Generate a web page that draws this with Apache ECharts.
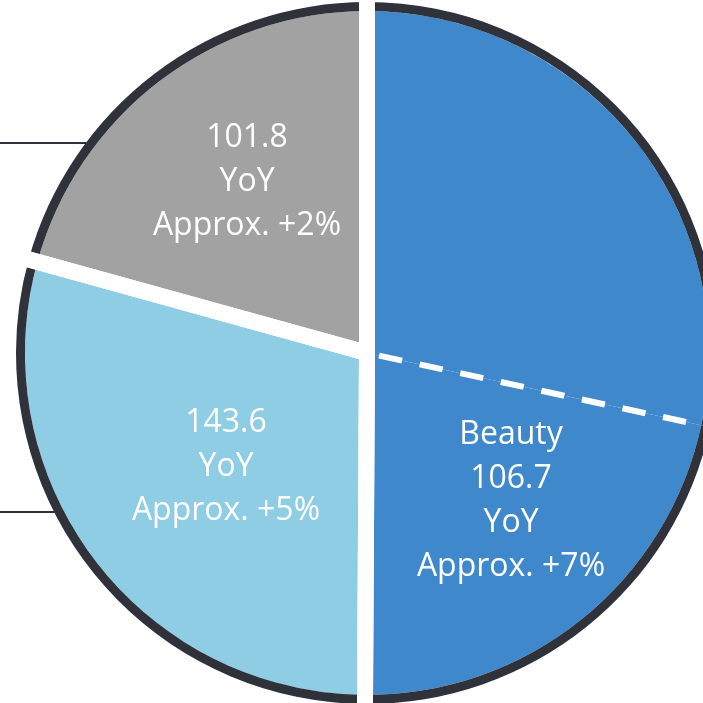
<!DOCTYPE html>
<html><head><meta charset="utf-8">
<script src="https://cdn.jsdelivr.net/npm/echarts@6/dist/echarts.min.js"></script>
<style>html,body{margin:0;padding:0;background:#fff;overflow:hidden}#c{width:703px;height:703px}</style>
</head><body><div id="c"></div>
<script>
// ---- data ----
const categories = ['Segment A', 'Beauty', 'Segment C', 'Segment D'];
const values = [139.6, 106.7, 143.6, 101.8];        // slice values (first one unlabeled, estimated from angle)
const labelTitles = ['', 'Beauty', '', ''];
const showLabel = [false, true, true, true];
const yoyValues = [null, 7, 5, 2];                 // YoY approx. %
// ---- style ----
const COLORS = ['#4088cc', '#4088cc', '#8ecde3', '#a2a2a2'];
const RING = '#30323b';
const CENTER = [367, 353];
const R_IN = 342, R_OUT = 351;
const LABEL_POS = {1: [511, 501], 2: [226, 467], 3: [247, 182]};

const chart = echarts.init(document.getElementById('c'), null, {renderer: 'canvas'});

function labelText(i) {
  if (!showLabel[i]) return '';
  const lines = [];
  if (labelTitles[i]) lines.push(labelTitles[i]);
  lines.push(values[i].toFixed(1));
  lines.push('YoY');
  lines.push('Approx. +' + yoyValues[i] + '%');
  return lines.join('\n');
}

const fillData = categories.map((n, i) => ({
  name: n, value: values[i],
  itemStyle: {color: COLORS[i]},
  label: {show: showLabel[i]}
}));
const dashData = categories.map((n, i) => ({
  name: n, value: values[i],
  itemStyle: n === 'Beauty'
    ? {color: 'rgba(0,0,0,0)', borderColor: '#fff', borderWidth: 6, borderType: [23.5, 18], borderDashOffset: 0}
    : {color: 'rgba(0,0,0,0)', borderWidth: 0}
}));
const ringData = categories.map((n, i) => ({name: n, value: values[i]}));
// white separation gaps: Segment A + Beauty form one block (split only by dashed line)
const gapData = [
  {name: 'blue', value: values[0] + values[1]},
  {name: categories[2], value: values[2]},
  {name: categories[3], value: values[3]}
];

const common = {type: 'pie', center: CENTER, startAngle: 90, clockwise: true,
  silent: true, animation: false, emphasis: {disabled: true}, labelLine: {show: false}};

chart.setOption({
  backgroundColor: '#fff',
  animation: false,
  series: [
    Object.assign({}, common, {
      z: 1, radius: [0, R_IN], data: fillData,
      label: {
        show: true, position: 'inner', color: '#fff',
        fontFamily: 'Open Sans', fontSize: 32, fontWeight: 400, lineHeight: 44,
        align: 'center', verticalAlign: 'middle',
        formatter: p => labelText(p.dataIndex)
      },
      labelLayout: function (params) {
        const p = LABEL_POS[params.dataIndex];
        return p ? {x: p[0], y: p[1], align: 'center', verticalAlign: 'middle'} : {};
      }
    }),
    Object.assign({}, common, {z: 2, radius: [0, R_IN + 4], data: dashData, label: {show: false}}),
    Object.assign({}, common, {z: 3, radius: [R_IN, R_OUT], data: ringData,
      itemStyle: {color: RING}, label: {show: false}}),
    Object.assign({}, common, {z: 4, radius: [0, R_OUT + 10], data: gapData, label: {show: false},
      itemStyle: {color: 'rgba(0,0,0,0)', borderColor: '#fff', borderWidth: 16, borderJoin: 'round'}})
  ],
  graphic: [
    {type: 'line', z: 100, shape: {x1: 0, y1: 143, x2: 86, y2: 143}, style: {stroke: RING, lineWidth: 2}},
    {type: 'line', z: 100, shape: {x1: 0, y1: 512, x2: 55, y2: 512}, style: {stroke: RING, lineWidth: 2}}
  ]
});
</script></body></html>
